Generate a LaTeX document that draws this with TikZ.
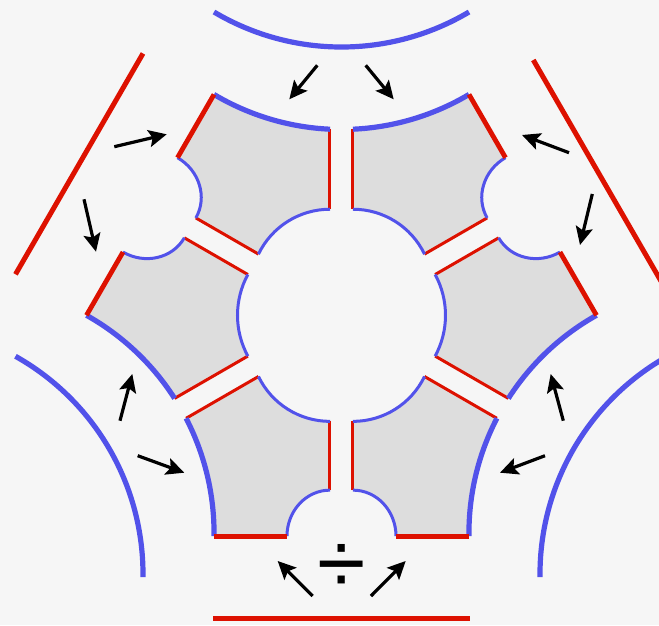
\documentclass[tikz,border=0pt]{standalone}
\usepackage{fontspec}
\newfontfamily\divfont{Liberation Sans}
\usetikzlibrary{arrows.meta}
\definecolor{pblue}{RGB}{82,82,234}
\definecolor{pred}{RGB}{221,17,0}
\definecolor{pfill}{RGB}{221,221,221}
\definecolor{bgc}{RGB}{246,246,246}
\begin{document}
\begin{tikzpicture}[x=1pt,y=1pt,
  thickb/.style={draw=pblue,line width=5.2pt},
  thinb/.style={draw=pblue,line width=3pt},
  thickr/.style={draw=pred,line width=4.8pt},
  thinr/.style={draw=pred,line width=3pt},
  outerb/.style={draw=pblue,line width=5.2pt},
  outerr/.style={draw=pred,line width=5pt},
  arr/.style={-{Stealth[length=18pt,width=17pt,inset=3.5pt]},line width=3.2pt,black}]
\useasboundingbox (-341.5,-309.7) rectangle (317.5,315.3);
\clip (-341.5,-309.7) rectangle (317.5,315.3);
\fill[bgc] (-341.5,-309.7) rectangle (317.5,315.3);

% outer frame pieces
\coordinate (OT) at (-127.5,303.3);
\draw[outerb] (OT) arc[start angle=239.29,end angle=300.71,radius=249.7];
\coordinate (OBL) at (-128,-303.5);
\coordinate (OBR) at (128,-303.5);
\draw[outerr] (OBL) -- (OBR);
\coordinate (ORL1) at (-198.5,261.84);
\coordinate (ORL2) at (-326.0,41);
\draw[outerr] (ORL1) -- (ORL2);
\coordinate (ORR1) at (191.8,255.3);
\coordinate (ORR2) at (330,16);
\draw[outerr] (ORR1) -- (ORR2);

\foreach \s in {1,-1}{
\begin{scope}[xscale=\s]
  \coordinate (OL) at (-198.52,-261.84);
  \draw[outerb] (OL) arc[start angle=-0.71,end angle=60.71,radius=249.7];
  % corner and edge points
  \coordinate (V120) at (-127.5,220.84);
  \coordinate (T1) at (-11.5,186.07);
  \coordinate (P2) at (-11.5,106.07);
  \coordinate (P3) at (-83.0,61.2);
  \coordinate (N4) at (-145.66,97.38);
  \coordinate (N5) at (-164.0,157.62);
  \coordinate (M1) at (-93.65,40.79);
  \coordinate (G1) at (-157.16,77.46);
  \coordinate (E1) at (-218.5,63.22);
  \coordinate (V180) at (-255,0);
  \coordinate (W1) at (-166.89,-83.08);
  \coordinate (M2) at (-93.65,-40.79);
  \coordinate (G) at (-155.39,-103.0);
  \coordinate (V240) at (-127.5,-220.84);
  \coordinate (A) at (-54.5,-220.84);
  \coordinate (B) at (-11.5,-174.84);
  \coordinate (Q2) at (-11.5,-106.07);
  \coordinate (Q3) at (-83.0,-61.2);
  % fills
  \fill[pfill] (V120) arc[start angle=239.29,end angle=267.36,radius=249.7] -- (P2)
     arc[start angle=90,end angle=154.2,radius=79.44] -- (N4)
     .. controls +(11.87,20.57) and +(22.0,-12.7) .. (N5) -- cycle;
  \fill[pfill] (M1) -- (G1) .. controls +(-11.87,-20.57) and +(22.0,-12.7) .. (E1) -- (V180)
     arc[start angle=60.71,end angle=32.64,radius=249.7] -- (M2)
     arc[start angle=208.48,end angle=151.52,radius=85.55] -- cycle;
  \fill[pfill] (G) arc[start angle=27.36,end angle=-0.71,radius=249.7] -- (A)
     .. controls +(0,25.4) and +(-23.75,0) .. (B) -- (Q2)
     arc[start angle=270,end angle=205.8,radius=79.44] -- cycle;
  % thin edges
  \draw[thinr] (T1) -- (P2);
  \draw[thinr] (P3) -- (N4);
  \draw[thinr] (M1) -- (G1);
  \draw[thinr] (W1) -- (M2);
  \draw[thinr] (Q3) -- (G);
  \draw[thinr] (B) -- (Q2);
  \draw[thinb] (P2) arc[start angle=90,end angle=154.2,radius=79.44];
  \draw[thinb] (N4) .. controls +(11.87,20.57) and +(22.0,-12.7) .. (N5);
  \draw[thinb] (G1) .. controls +(-11.87,-20.57) and +(22.0,-12.7) .. (E1);
  \draw[thinb] (M2) arc[start angle=208.48,end angle=151.52,radius=85.55];
  \draw[thinb] (A) .. controls +(0,25.4) and +(-23.75,0) .. (B);
  \draw[thinb] (Q2) arc[start angle=270,end angle=205.8,radius=79.44];
  % thick edges
  \draw[thickb] (V120) arc[start angle=239.29,end angle=267.36,radius=249.7];
  \draw[thickb] (V180) arc[start angle=60.71,end angle=32.64,radius=249.7];
  \draw[thickb] (G) arc[start angle=27.36,end angle=-0.71,radius=249.7];
  \draw[thickr] (N5) -- (V120);
  \draw[thickr] (E1) -- (V180);
  \draw[thickr] (V240) -- (A);
\end{scope}}

% arrows
\coordinate (a1t) at (-24.2,250);   \coordinate (a1h) at (-52.2,216);
\coordinate (a2t) at (24.2,250);    \coordinate (a2h) at (52.2,216);
\coordinate (a3t) at (-227.2,168.6);\coordinate (a3h) at (-174.8,181);
\coordinate (a4t) at (-257.5,116);  \coordinate (a4h) at (-245.5,63.6);
\coordinate (a5t) at (-221.5,-105.4);\coordinate (a5h) at (-209.2,-58.7);
\coordinate (a6t) at (-203.8,-140.4);\coordinate (a6h) at (-157.2,-157.4);
\coordinate (a7t) at (-28.8,-280.7);\coordinate (a7h) at (-63.8,-245.7);
\coordinate (a8t) at (29.5,-280.7); \coordinate (a8h) at (64.2,-245.7);
\coordinate (a9t) at (203.5,-140.4);\coordinate (a9h) at (158.5,-157.4);
\coordinate (a10t) at (221.8,-105.4);\coordinate (a10h) at (209.2,-58.7);
\coordinate (a11t) at (250.8,121.3);\coordinate (a11h) at (238.5,70.3);
\coordinate (a12t) at (227.5,162.6);\coordinate (a12h) at (180.5,180.3);
\foreach \i in {1,...,12}{\draw[arr] (a\i t) -- (a\i h);}

\node[font=\divfont\fontsize{88}{88}\selectfont,inner sep=0pt] (div) at (0.2,-254) {÷};
\end{tikzpicture}
\end{document}
